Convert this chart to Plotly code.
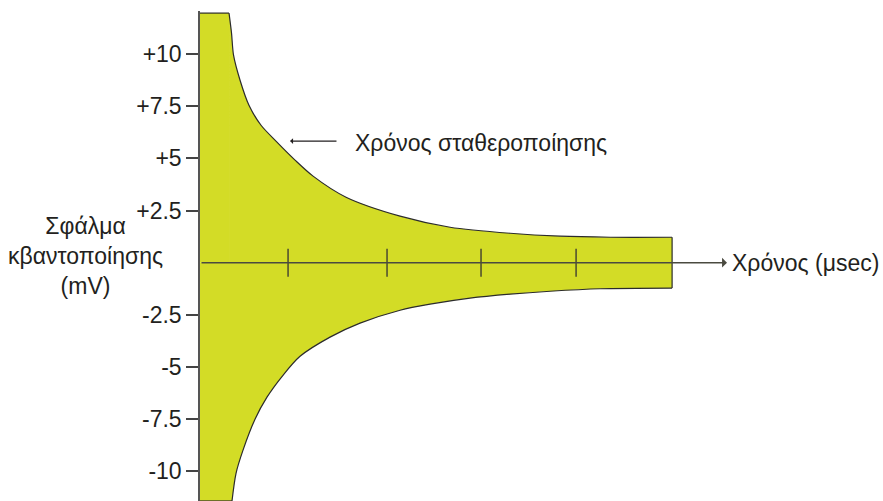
import plotly.graph_objects as go

# Envelope of the quantisation error.
# First point of each list is on the error axis, second is the corner where the curve starts.
upper_x = [0.0, 0.303, 0.329, 0.350, 0.418, 0.511, 0.637, 0.793, 0.992, 1.180, 1.524, 2.088, 2.610, 3.236, 3.758, 4.280, 4.927]
upper_y = [11.97, 11.97, 11.01, 9.95, 8.75, 7.55, 6.59, 5.83, 4.92, 4.15, 3.14, 2.23, 1.70, 1.41, 1.27, 1.22, 1.22]
lower_x = [0.0, 0.334, 0.376, 0.449, 0.574, 0.699, 0.866, 1.044, 1.357, 1.670, 2.088, 2.401, 2.818, 3.236, 3.653, 4.175, 4.927]
lower_y = [-11.43, -11.43, -10.10, -8.99, -7.51, -6.45, -5.40, -4.49, -3.57, -2.90, -2.28, -1.99, -1.70, -1.51, -1.37, -1.25, -1.22]

# time axis tick marks
time_ticks = [0.919, 1.952, 2.933, 3.925]
time_axis_end = 5.5

# error axis ticks
err_vals = [10, 7.5, 5, 2.5, -2.5, -5, -7.5, -10]
err_text = ["+10", "+7.5", "+5", "+2.5", "-2.5", "-5", "-7.5", "-10"]

FONT = "Liberation Sans, Arial, sans-serif"
TXT = "#231f20"
FILL = "#d3dc26"
EDGE = "#2b2b2b"

fig = go.Figure()
for xs, ys in ((upper_x, upper_y), (lower_x, lower_y)):
    # flat strip next to the error axis
    fig.add_trace(go.Scatter(
        x=[xs[0], xs[0], xs[1], xs[1]], y=[0, ys[0], ys[1], 0], mode="lines",
        fill="toself", fillcolor=FILL, line=dict(width=0),
        hoverinfo="skip", showlegend=False))
    # curved decay part
    fig.add_trace(go.Scatter(
        x=xs[1:], y=ys[1:], mode="lines", fill="tozeroy", fillcolor=FILL,
        line=dict(color=EDGE, width=1.2, shape="spline", smoothing=0.8),
        hoverinfo="skip", showlegend=False))
    # flat edge
    fig.add_trace(go.Scatter(
        x=xs[:2], y=ys[:2], mode="lines", line=dict(color=EDGE, width=1.2),
        hoverinfo="skip", showlegend=False))

# right-hand closing edge of the envelope
fig.add_trace(go.Scatter(
    x=[upper_x[-1], lower_x[-1]], y=[upper_y[-1], lower_y[-1]], mode="lines",
    line=dict(color=EDGE, width=1.2), hoverinfo="skip", showlegend=False))

# time axis tick marks crossing the axis
fig.add_trace(go.Scatter(
    x=time_ticks, y=[0] * len(time_ticks), mode="markers",
    marker=dict(symbol="line-ns", size=20, line=dict(color="#4a4a30", width=1.5)),
    hoverinfo="skip", showlegend=False))

annotations = [
    # horizontal time axis with arrow
    dict(x=time_axis_end, y=0, xref="x", yref="y", ax=0, ay=0, axref="x", ayref="y",
         text="", showarrow=True, arrowhead=1, arrowsize=1.1, arrowwidth=1.5,
         arrowcolor="#4a4a40"),
    dict(x=1, y=0, xref="paper", yref="y", xanchor="left", yanchor="middle", xshift=3,
         text="Χρόνος (μsec)", showarrow=False, font=dict(family=FONT, size=23, color=TXT)),
    # settling time label with arrow
    dict(x=0.94, y=5.83, xref="x", yref="y", ax=1.44, ay=5.83, axref="x", ayref="y",
         text="", showarrow=True, arrowhead=1, arrowsize=0.9, arrowwidth=1.1,
         arrowcolor=TXT),
    dict(x=1.60, y=5.75, xref="x", yref="y", xanchor="left", yanchor="middle",
         text="Χρόνος σταθεροποίησης", showarrow=False,
         font=dict(family=FONT, size=23, color=TXT)),
    # y axis title
    dict(x=-0.218, y=0.3, xref="paper", yref="y", xanchor="center", yanchor="middle",
         text="Σφάλμα<br>κβαντοποίησης<br>(mV)", showarrow=False, align="center",
         font=dict(family=FONT, size=23, color=TXT)),
]

fig.update_layout(
    width=883, height=501,
    margin=dict(l=200, r=156, t=11, b=0),
    paper_bgcolor="white", plot_bgcolor="white",
    showlegend=False,
    annotations=annotations,
    xaxis=dict(range=[0, time_axis_end], visible=False, fixedrange=True),
    yaxis=dict(range=[-11.43, 12.07], showgrid=False, zeroline=False,
               showline=True, linecolor="#555555", linewidth=1.5,
               ticks="outside", ticklen=12, tickwidth=1.5, tickcolor="#444444",
               tickvals=err_vals, ticktext=err_text,
               tickfont=dict(family=FONT, size=23, color=TXT), fixedrange=True),
)

fig.write_html("out.html", config={"displayModeBar": False},
               post_script="document.body.style.margin='0';")
